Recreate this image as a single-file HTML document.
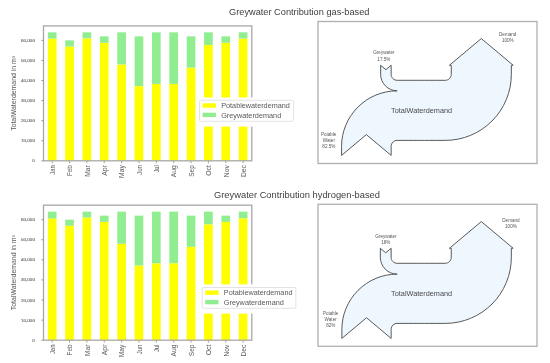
<!DOCTYPE html>
<html><head><meta charset="utf-8"><style>
html,body{margin:0;padding:0;background:#fff;}
svg{display:block;will-change:transform;font-family:"Liberation Sans",sans-serif;}
</style></head><body>
<svg width="550" height="363" viewBox="0 0 550 363">
<rect width="550" height="363" fill="#fff"/>
<text x="229" y="15.3" font-size="8.6" fill="#404040" textLength="140.5" lengthAdjust="spacingAndGlyphs">Greywater Contribution gas-based</text>
<text x="214" y="197.7" font-size="8.6" fill="#404040" textLength="166" lengthAdjust="spacingAndGlyphs">Greywater Contribution hydrogen-based</text>
<rect x="47.84" y="38.55" width="8.68" height="122.25" fill="#ffff00"/>
<rect x="47.84" y="32.32" width="8.68" height="6.22" fill="#90ee90"/>
<line x1="52.18" y1="160.80" x2="52.18" y2="163.20" stroke="#888" stroke-width="0.8"/>
<text transform="translate(54.98,165.20) rotate(-90)" text-anchor="end" font-size="6.33" fill="#585858" textLength="9.48" lengthAdjust="spacingAndGlyphs" >Jan</text>
<rect x="65.20" y="46.58" width="8.68" height="114.22" fill="#ffff00"/>
<rect x="65.20" y="40.35" width="8.68" height="6.22" fill="#90ee90"/>
<line x1="69.54" y1="160.80" x2="69.54" y2="163.20" stroke="#888" stroke-width="0.8"/>
<text transform="translate(72.34,165.20) rotate(-90)" text-anchor="end" font-size="6.33" fill="#585858" textLength="10.89" lengthAdjust="spacingAndGlyphs" >Feb</text>
<rect x="82.56" y="38.35" width="8.68" height="122.45" fill="#ffff00"/>
<rect x="82.56" y="32.32" width="8.68" height="6.02" fill="#90ee90"/>
<line x1="86.90" y1="160.80" x2="86.90" y2="163.20" stroke="#888" stroke-width="0.8"/>
<text transform="translate(89.70,165.20) rotate(-90)" text-anchor="end" font-size="6.33" fill="#585858" textLength="11.60" lengthAdjust="spacingAndGlyphs" >Mar</text>
<rect x="99.91" y="42.76" width="8.68" height="118.04" fill="#ffff00"/>
<rect x="99.91" y="36.34" width="8.68" height="6.42" fill="#90ee90"/>
<line x1="104.25" y1="160.80" x2="104.25" y2="163.20" stroke="#888" stroke-width="0.8"/>
<text transform="translate(107.05,165.20) rotate(-90)" text-anchor="end" font-size="6.33" fill="#585858" textLength="10.64" lengthAdjust="spacingAndGlyphs" >Apr</text>
<rect x="117.27" y="64.44" width="8.68" height="96.36" fill="#ffff00"/>
<rect x="117.27" y="32.32" width="8.68" height="32.12" fill="#90ee90"/>
<line x1="121.61" y1="160.80" x2="121.61" y2="163.20" stroke="#888" stroke-width="0.8"/>
<text transform="translate(124.41,165.20) rotate(-90)" text-anchor="end" font-size="6.33" fill="#585858" textLength="12.71" lengthAdjust="spacingAndGlyphs" >May</text>
<rect x="134.63" y="86.12" width="8.68" height="74.68" fill="#ffff00"/>
<rect x="134.63" y="36.34" width="8.68" height="49.78" fill="#90ee90"/>
<line x1="138.97" y1="160.80" x2="138.97" y2="163.20" stroke="#888" stroke-width="0.8"/>
<text transform="translate(141.77,165.20) rotate(-90)" text-anchor="end" font-size="6.33" fill="#585858" textLength="9.61" lengthAdjust="spacingAndGlyphs" >Jun</text>
<rect x="151.99" y="83.92" width="8.68" height="76.88" fill="#ffff00"/>
<rect x="151.99" y="32.32" width="8.68" height="51.59" fill="#90ee90"/>
<line x1="156.33" y1="160.80" x2="156.33" y2="163.20" stroke="#888" stroke-width="0.8"/>
<text transform="translate(159.13,165.20) rotate(-90)" text-anchor="end" font-size="6.33" fill="#585858" textLength="7.42" lengthAdjust="spacingAndGlyphs" >Jul</text>
<rect x="169.35" y="83.92" width="8.68" height="76.88" fill="#ffff00"/>
<rect x="169.35" y="32.32" width="8.68" height="51.59" fill="#90ee90"/>
<line x1="173.69" y1="160.80" x2="173.69" y2="163.20" stroke="#888" stroke-width="0.8"/>
<text transform="translate(176.49,165.20) rotate(-90)" text-anchor="end" font-size="6.33" fill="#585858" textLength="12.01" lengthAdjust="spacingAndGlyphs" >Aug</text>
<rect x="186.71" y="67.65" width="8.68" height="93.15" fill="#ffff00"/>
<rect x="186.71" y="36.34" width="8.68" height="31.32" fill="#90ee90"/>
<line x1="191.05" y1="160.80" x2="191.05" y2="163.20" stroke="#888" stroke-width="0.8"/>
<text transform="translate(193.85,165.20) rotate(-90)" text-anchor="end" font-size="6.33" fill="#585858" textLength="11.59" lengthAdjust="spacingAndGlyphs" >Sep</text>
<rect x="204.06" y="44.97" width="8.68" height="115.83" fill="#ffff00"/>
<rect x="204.06" y="32.32" width="8.68" height="12.65" fill="#90ee90"/>
<line x1="208.40" y1="160.80" x2="208.40" y2="163.20" stroke="#888" stroke-width="0.8"/>
<text transform="translate(211.20,165.20) rotate(-90)" text-anchor="end" font-size="6.33" fill="#585858" textLength="10.63" lengthAdjust="spacingAndGlyphs" >Oct</text>
<rect x="221.42" y="42.76" width="8.68" height="118.04" fill="#ffff00"/>
<rect x="221.42" y="36.34" width="8.68" height="6.42" fill="#90ee90"/>
<line x1="225.76" y1="160.80" x2="225.76" y2="163.20" stroke="#888" stroke-width="0.8"/>
<text transform="translate(228.56,165.20) rotate(-90)" text-anchor="end" font-size="6.33" fill="#585858" textLength="12.00" lengthAdjust="spacingAndGlyphs" >Nov</text>
<rect x="238.78" y="38.55" width="8.68" height="122.25" fill="#ffff00"/>
<rect x="238.78" y="32.32" width="8.68" height="6.22" fill="#90ee90"/>
<line x1="243.12" y1="160.80" x2="243.12" y2="163.20" stroke="#888" stroke-width="0.8"/>
<text transform="translate(245.92,165.20) rotate(-90)" text-anchor="end" font-size="6.33" fill="#585858" textLength="11.90" lengthAdjust="spacingAndGlyphs" >Dec</text>
<rect x="43.50" y="25.90" width="208.30" height="134.90" fill="none" stroke="#a8a8a8" stroke-width="1.3"/>
<line x1="41.30" y1="160.80" x2="43.50" y2="160.80" stroke="#888" stroke-width="0.8"/>
<text x="34.90" y="162.30" text-anchor="end" font-size="4.35" fill="#7c7c7c" textLength="2.51" lengthAdjust="spacingAndGlyphs" stroke="#7c7c7c" stroke-width="0.18">0</text>
<line x1="41.30" y1="140.73" x2="43.50" y2="140.73" stroke="#888" stroke-width="0.8"/>
<text x="34.90" y="142.23" text-anchor="end" font-size="4.35" fill="#7c7c7c" textLength="13.82" lengthAdjust="spacingAndGlyphs" stroke="#7c7c7c" stroke-width="0.18">10,000</text>
<line x1="41.30" y1="120.65" x2="43.50" y2="120.65" stroke="#888" stroke-width="0.8"/>
<text x="34.90" y="122.15" text-anchor="end" font-size="4.35" fill="#7c7c7c" textLength="13.82" lengthAdjust="spacingAndGlyphs" stroke="#7c7c7c" stroke-width="0.18">20,000</text>
<line x1="41.30" y1="100.58" x2="43.50" y2="100.58" stroke="#888" stroke-width="0.8"/>
<text x="34.90" y="102.08" text-anchor="end" font-size="4.35" fill="#7c7c7c" textLength="13.82" lengthAdjust="spacingAndGlyphs" stroke="#7c7c7c" stroke-width="0.18">30,000</text>
<line x1="41.30" y1="80.50" x2="43.50" y2="80.50" stroke="#888" stroke-width="0.8"/>
<text x="34.90" y="82.00" text-anchor="end" font-size="4.35" fill="#7c7c7c" textLength="13.82" lengthAdjust="spacingAndGlyphs" stroke="#7c7c7c" stroke-width="0.18">40,000</text>
<line x1="41.30" y1="60.43" x2="43.50" y2="60.43" stroke="#888" stroke-width="0.8"/>
<text x="34.90" y="61.93" text-anchor="end" font-size="4.35" fill="#7c7c7c" textLength="13.82" lengthAdjust="spacingAndGlyphs" stroke="#7c7c7c" stroke-width="0.18">50,000</text>
<line x1="41.30" y1="40.35" x2="43.50" y2="40.35" stroke="#888" stroke-width="0.8"/>
<text x="34.90" y="41.85" text-anchor="end" font-size="4.35" fill="#7c7c7c" textLength="13.82" lengthAdjust="spacingAndGlyphs" stroke="#7c7c7c" stroke-width="0.18">60,000</text>
<text transform="translate(16.0,93.35) rotate(-90)" text-anchor="middle" font-size="6.71" fill="#585858" textLength="75.04" lengthAdjust="spacingAndGlyphs" >TotalWaterdemand in m³</text>
<rect x="197" y="97.5" width="103" height="29.099999999999994" fill="#fff"/>
<rect x="199.60" y="100.30" width="94.00" height="21.00" fill="#fff" stroke="#dcdcdc" stroke-width="0.8" rx="1"/>
<rect x="202.60" y="103.30" width="13.3" height="4.4" fill="#ffff00"/>
<rect x="202.60" y="112.70" width="13.3" height="4.4" fill="#90ee90"/>
<text x="221.20" y="107.70" text-anchor="start" font-size="6.64" fill="#585858" textLength="68.69" lengthAdjust="spacingAndGlyphs" >Potablewaterdemand</text>
<text x="221.20" y="117.70" text-anchor="start" font-size="6.64" fill="#585858" textLength="60.04" lengthAdjust="spacingAndGlyphs" >Greywaterdemand</text>
<rect x="47.84" y="218.46" width="8.68" height="121.74" fill="#ffff00"/>
<rect x="47.84" y="211.63" width="8.68" height="6.83" fill="#90ee90"/>
<line x1="52.18" y1="340.20" x2="52.18" y2="342.60" stroke="#888" stroke-width="0.8"/>
<text transform="translate(54.98,344.60) rotate(-90)" text-anchor="end" font-size="6.33" fill="#585858" textLength="9.48" lengthAdjust="spacingAndGlyphs" >Jan</text>
<rect x="65.20" y="225.69" width="8.68" height="114.51" fill="#ffff00"/>
<rect x="65.20" y="219.66" width="8.68" height="6.03" fill="#90ee90"/>
<line x1="69.54" y1="340.20" x2="69.54" y2="342.60" stroke="#888" stroke-width="0.8"/>
<text transform="translate(72.34,344.60) rotate(-90)" text-anchor="end" font-size="6.33" fill="#585858" textLength="10.89" lengthAdjust="spacingAndGlyphs" >Feb</text>
<rect x="82.56" y="217.45" width="8.68" height="122.75" fill="#ffff00"/>
<rect x="82.56" y="211.63" width="8.68" height="5.83" fill="#90ee90"/>
<line x1="86.90" y1="340.20" x2="86.90" y2="342.60" stroke="#888" stroke-width="0.8"/>
<text transform="translate(89.70,344.60) rotate(-90)" text-anchor="end" font-size="6.33" fill="#585858" textLength="11.60" lengthAdjust="spacingAndGlyphs" >Mar</text>
<rect x="99.91" y="221.87" width="8.68" height="118.33" fill="#ffff00"/>
<rect x="99.91" y="215.65" width="8.68" height="6.23" fill="#90ee90"/>
<line x1="104.25" y1="340.20" x2="104.25" y2="342.60" stroke="#888" stroke-width="0.8"/>
<text transform="translate(107.05,344.60) rotate(-90)" text-anchor="end" font-size="6.33" fill="#585858" textLength="10.64" lengthAdjust="spacingAndGlyphs" >Apr</text>
<rect x="117.27" y="243.77" width="8.68" height="96.43" fill="#ffff00"/>
<rect x="117.27" y="211.63" width="8.68" height="32.14" fill="#90ee90"/>
<line x1="121.61" y1="340.20" x2="121.61" y2="342.60" stroke="#888" stroke-width="0.8"/>
<text transform="translate(124.41,344.60) rotate(-90)" text-anchor="end" font-size="6.33" fill="#585858" textLength="12.71" lengthAdjust="spacingAndGlyphs" >May</text>
<rect x="134.63" y="265.47" width="8.68" height="74.73" fill="#ffff00"/>
<rect x="134.63" y="215.65" width="8.68" height="49.82" fill="#90ee90"/>
<line x1="138.97" y1="340.20" x2="138.97" y2="342.60" stroke="#888" stroke-width="0.8"/>
<text transform="translate(141.77,344.60) rotate(-90)" text-anchor="end" font-size="6.33" fill="#585858" textLength="9.61" lengthAdjust="spacingAndGlyphs" >Jun</text>
<rect x="151.99" y="263.26" width="8.68" height="76.94" fill="#ffff00"/>
<rect x="151.99" y="211.63" width="8.68" height="51.63" fill="#90ee90"/>
<line x1="156.33" y1="340.20" x2="156.33" y2="342.60" stroke="#888" stroke-width="0.8"/>
<text transform="translate(159.13,344.60) rotate(-90)" text-anchor="end" font-size="6.33" fill="#585858" textLength="7.42" lengthAdjust="spacingAndGlyphs" >Jul</text>
<rect x="169.35" y="263.26" width="8.68" height="76.94" fill="#ffff00"/>
<rect x="169.35" y="211.63" width="8.68" height="51.63" fill="#90ee90"/>
<line x1="173.69" y1="340.20" x2="173.69" y2="342.60" stroke="#888" stroke-width="0.8"/>
<text transform="translate(176.49,344.60) rotate(-90)" text-anchor="end" font-size="6.33" fill="#585858" textLength="12.01" lengthAdjust="spacingAndGlyphs" >Aug</text>
<rect x="186.71" y="246.78" width="8.68" height="93.42" fill="#ffff00"/>
<rect x="186.71" y="215.65" width="8.68" height="31.14" fill="#90ee90"/>
<line x1="191.05" y1="340.20" x2="191.05" y2="342.60" stroke="#888" stroke-width="0.8"/>
<text transform="translate(193.85,344.60) rotate(-90)" text-anchor="end" font-size="6.33" fill="#585858" textLength="11.59" lengthAdjust="spacingAndGlyphs" >Sep</text>
<rect x="204.06" y="224.28" width="8.68" height="115.92" fill="#ffff00"/>
<rect x="204.06" y="211.63" width="8.68" height="12.66" fill="#90ee90"/>
<line x1="208.40" y1="340.20" x2="208.40" y2="342.60" stroke="#888" stroke-width="0.8"/>
<text transform="translate(211.20,344.60) rotate(-90)" text-anchor="end" font-size="6.33" fill="#585858" textLength="10.63" lengthAdjust="spacingAndGlyphs" >Oct</text>
<rect x="221.42" y="221.87" width="8.68" height="118.33" fill="#ffff00"/>
<rect x="221.42" y="215.65" width="8.68" height="6.23" fill="#90ee90"/>
<line x1="225.76" y1="340.20" x2="225.76" y2="342.60" stroke="#888" stroke-width="0.8"/>
<text transform="translate(228.56,344.60) rotate(-90)" text-anchor="end" font-size="6.33" fill="#585858" textLength="12.00" lengthAdjust="spacingAndGlyphs" >Nov</text>
<rect x="238.78" y="218.26" width="8.68" height="121.94" fill="#ffff00"/>
<rect x="238.78" y="211.63" width="8.68" height="6.63" fill="#90ee90"/>
<line x1="243.12" y1="340.20" x2="243.12" y2="342.60" stroke="#888" stroke-width="0.8"/>
<text transform="translate(245.92,344.60) rotate(-90)" text-anchor="end" font-size="6.33" fill="#585858" textLength="11.90" lengthAdjust="spacingAndGlyphs" >Dec</text>
<rect x="43.50" y="205.20" width="208.30" height="135.00" fill="none" stroke="#a8a8a8" stroke-width="1.3"/>
<line x1="41.30" y1="340.20" x2="43.50" y2="340.20" stroke="#888" stroke-width="0.8"/>
<text x="34.90" y="341.70" text-anchor="end" font-size="4.35" fill="#7c7c7c" textLength="2.51" lengthAdjust="spacingAndGlyphs" stroke="#7c7c7c" stroke-width="0.18">0</text>
<line x1="41.30" y1="320.11" x2="43.50" y2="320.11" stroke="#888" stroke-width="0.8"/>
<text x="34.90" y="321.61" text-anchor="end" font-size="4.35" fill="#7c7c7c" textLength="13.82" lengthAdjust="spacingAndGlyphs" stroke="#7c7c7c" stroke-width="0.18">10,000</text>
<line x1="41.30" y1="300.02" x2="43.50" y2="300.02" stroke="#888" stroke-width="0.8"/>
<text x="34.90" y="301.52" text-anchor="end" font-size="4.35" fill="#7c7c7c" textLength="13.82" lengthAdjust="spacingAndGlyphs" stroke="#7c7c7c" stroke-width="0.18">20,000</text>
<line x1="41.30" y1="279.93" x2="43.50" y2="279.93" stroke="#888" stroke-width="0.8"/>
<text x="34.90" y="281.43" text-anchor="end" font-size="4.35" fill="#7c7c7c" textLength="13.82" lengthAdjust="spacingAndGlyphs" stroke="#7c7c7c" stroke-width="0.18">30,000</text>
<line x1="41.30" y1="259.84" x2="43.50" y2="259.84" stroke="#888" stroke-width="0.8"/>
<text x="34.90" y="261.34" text-anchor="end" font-size="4.35" fill="#7c7c7c" textLength="13.82" lengthAdjust="spacingAndGlyphs" stroke="#7c7c7c" stroke-width="0.18">40,000</text>
<line x1="41.30" y1="239.75" x2="43.50" y2="239.75" stroke="#888" stroke-width="0.8"/>
<text x="34.90" y="241.25" text-anchor="end" font-size="4.35" fill="#7c7c7c" textLength="13.82" lengthAdjust="spacingAndGlyphs" stroke="#7c7c7c" stroke-width="0.18">50,000</text>
<line x1="41.30" y1="219.66" x2="43.50" y2="219.66" stroke="#888" stroke-width="0.8"/>
<text x="34.90" y="221.16" text-anchor="end" font-size="4.35" fill="#7c7c7c" textLength="13.82" lengthAdjust="spacingAndGlyphs" stroke="#7c7c7c" stroke-width="0.18">60,000</text>
<text transform="translate(16.0,272.70) rotate(-90)" text-anchor="middle" font-size="6.71" fill="#585858" textLength="75.04" lengthAdjust="spacingAndGlyphs" >TotalWaterdemand in m³</text>
<rect x="197" y="284.4" width="103" height="29.200000000000045" fill="#fff"/>
<rect x="202.20" y="287.50" width="93.60" height="20.80" fill="#fff" stroke="#dcdcdc" stroke-width="0.8" rx="1"/>
<rect x="205.20" y="290.50" width="13.3" height="4.4" fill="#ffff00"/>
<rect x="205.20" y="299.90" width="13.3" height="4.4" fill="#90ee90"/>
<text x="223.80" y="294.90" text-anchor="start" font-size="6.64" fill="#585858" textLength="68.69" lengthAdjust="spacingAndGlyphs" >Potablewaterdemand</text>
<text x="223.80" y="304.90" text-anchor="start" font-size="6.64" fill="#585858" textLength="60.04" lengthAdjust="spacingAndGlyphs" >Greywaterdemand</text>
<rect x="318" y="21.50" width="219" height="142" fill="none" stroke="#b0b0b0" stroke-width="1.3"/>
<path d="M406.18,80.30L413.69,80.30C419.32,80.30 423.08,80.30 428.71,80.30L436.22,80.30L445.24,80.30C446.83,80.30 448.36,79.67 449.49,78.54C450.62,77.41 451.25,75.88 451.25,74.29L451.25,65.27L449.45,65.27L481.30,38.55L513.15,65.27L511.35,65.27L511.35,74.29C511.35,91.82 504.38,108.64 491.99,121.04C479.59,133.43 462.77,140.40 445.24,140.40L436.22,140.40L428.71,140.40C423.08,140.40 419.32,140.40 413.69,140.40L406.18,140.40L397.16,140.40C395.57,140.40 394.04,141.03 392.91,142.16C391.78,143.29 391.15,144.82 391.15,146.41L391.15,155.43L366.36,134.62L341.57,155.43L341.57,146.41C341.57,131.67 347.43,117.52 357.85,107.10C368.27,96.68 382.42,90.82 397.16,90.82L397.16,90.82C392.78,90.82 388.57,89.08 385.47,85.98C382.37,82.88 380.63,78.67 380.63,74.29L380.63,65.27L385.89,69.69L391.15,65.27L391.15,74.29C391.15,75.88 391.78,77.41 392.91,78.54C394.04,79.67 395.57,80.30 397.16,80.30L406.18,80.30Z" fill="#eef6fe" stroke="#505050" stroke-width="0.95" stroke-linejoin="miter"/>
<text x="421.60" y="112.55" text-anchor="middle" font-size="6.70" fill="#4a4a4a" textLength="60.97" lengthAdjust="spacingAndGlyphs" >TotalWaterdemand</text>
<text x="328.70" y="135.60" text-anchor="middle" font-size="4.51" fill="#555" textLength="15.22" lengthAdjust="spacingAndGlyphs" >Potable</text>
<text x="328.90" y="141.50" text-anchor="middle" font-size="4.51" fill="#555" textLength="12.12" lengthAdjust="spacingAndGlyphs" >Water</text>
<text x="328.90" y="147.70" text-anchor="middle" font-size="4.51" fill="#555" textLength="13.02" lengthAdjust="spacingAndGlyphs" >82.5%</text>
<text x="383.90" y="54.20" text-anchor="middle" font-size="4.51" fill="#555" textLength="21.40" lengthAdjust="spacingAndGlyphs" >Greywater</text>
<text x="383.90" y="60.60" text-anchor="middle" font-size="4.51" fill="#555" textLength="13.02" lengthAdjust="spacingAndGlyphs" >17.5%</text>
<text x="507.70" y="35.60" text-anchor="middle" font-size="4.51" fill="#555" textLength="17.39" lengthAdjust="spacingAndGlyphs" >Demand</text>
<text x="507.80" y="41.90" text-anchor="middle" font-size="4.51" fill="#555" textLength="11.72" lengthAdjust="spacingAndGlyphs" >100%</text>
<rect x="318" y="204.30" width="219" height="142" fill="none" stroke="#b0b0b0" stroke-width="1.3"/>
<path d="M406.18,263.30L413.69,263.30C419.32,263.30 423.08,263.30 428.71,263.30L436.22,263.30L445.24,263.30C446.83,263.30 448.36,262.67 449.49,261.54C450.62,260.41 451.25,258.88 451.25,257.29L451.25,248.28L449.45,248.28L481.30,221.55L513.15,248.28L511.35,248.28L511.35,257.29C511.35,274.82 504.38,291.64 491.99,304.04C479.59,316.43 462.77,323.40 445.24,323.40L436.22,323.40L428.71,323.40C423.08,323.40 419.32,323.40 413.69,323.40L406.18,323.40L397.16,323.40C395.57,323.40 394.04,324.03 392.91,325.16C391.78,326.29 391.15,327.82 391.15,329.41L391.15,338.43L366.51,317.75L341.87,338.43L341.87,329.41C341.87,314.75 347.70,300.68 358.06,290.31C368.43,279.95 382.50,274.12 397.16,274.12L397.16,274.12C392.70,274.12 388.42,272.34 385.26,269.19C382.11,266.03 380.33,261.75 380.33,257.29L380.33,248.28L385.74,252.81L391.15,248.28L391.15,257.29C391.15,258.88 391.78,260.41 392.91,261.54C394.04,262.67 395.57,263.30 397.16,263.30L406.18,263.30Z" fill="#eef6fe" stroke="#505050" stroke-width="0.95" stroke-linejoin="miter"/>
<text x="421.60" y="295.55" text-anchor="middle" font-size="6.70" fill="#4a4a4a" textLength="60.97" lengthAdjust="spacingAndGlyphs" >TotalWaterdemand</text>
<text x="330.70" y="314.60" text-anchor="middle" font-size="4.51" fill="#555" textLength="15.22" lengthAdjust="spacingAndGlyphs" >Potable</text>
<text x="330.70" y="320.70" text-anchor="middle" font-size="4.51" fill="#555" textLength="12.12" lengthAdjust="spacingAndGlyphs" >Water</text>
<text x="330.80" y="326.70" text-anchor="middle" font-size="4.51" fill="#555" textLength="9.11" lengthAdjust="spacingAndGlyphs" >82%</text>
<text x="386.00" y="237.70" text-anchor="middle" font-size="4.51" fill="#555" textLength="21.40" lengthAdjust="spacingAndGlyphs" >Greywater</text>
<text x="385.70" y="244.00" text-anchor="middle" font-size="4.51" fill="#555" textLength="9.11" lengthAdjust="spacingAndGlyphs" >18%</text>
<text x="511.00" y="221.50" text-anchor="middle" font-size="4.51" fill="#555" textLength="17.39" lengthAdjust="spacingAndGlyphs" >Demand</text>
<text x="510.90" y="227.50" text-anchor="middle" font-size="4.51" fill="#555" textLength="11.72" lengthAdjust="spacingAndGlyphs" >100%</text>
</svg>
</body></html>
